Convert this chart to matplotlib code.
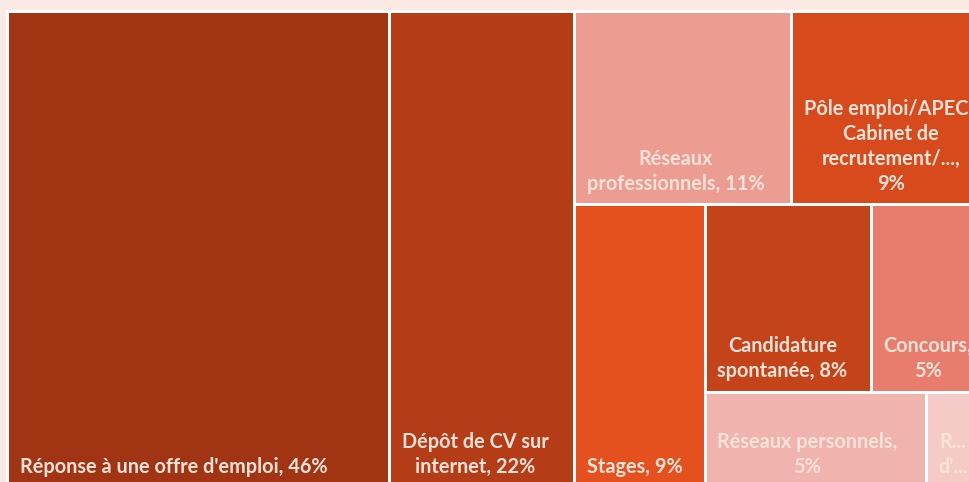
import matplotlib
matplotlib.use('Agg')
import matplotlib.pyplot as plt
from matplotlib.patches import Rectangle

# Treemap data (layout order)
categories = ["Réponse à une offre d'emploi", "Dépôt de CV sur internet", "Réseaux professionnels",
              "Pôle emploi/APEC/Cabinet de recrutement/...", "Stages", "Candidature spontanée",
              "Concours", "Réseaux personnels", "R... d'..."]
values = [46.0, 22.3, 10.6, 9.3, 9.35, 7.9, 5.25, 5.35, 1.35]
labels = ["Réponse à une offre d'emploi, 46%", "Dépôt de CV sur\ninternet, 22%", "Réseaux\nprofessionnels, 11%",
          "Pôle emploi/APEC/\nCabinet de\nrecrutement/...,\n9%", "Stages, 9%", "Candidature\nspontanée, 8%",
          "Concours,\n5%", "Réseaux personnels,\n5%", "R...\nd'..."]
colors = ['#A13412', '#B43C16', '#EC9C91', '#D64A1C', '#E4511F', '#C44318', '#E87D6E', '#F0B3AD', '#F4CBC7']

# how the cells are grouped into strips, in the order they are laid out
rows = [[0], [1], [2, 3], [4], [5, 6], [7], [8]]


def layout(vals, rows, W, H):
    x, y, w, h = 0.0, 0.0, W, H
    scale = W * H / sum(vals)
    rects = {}
    for row in rows:
        s = sum(vals[i] for i in row) * scale
        if w >= h:
            cw = s / h
            yy = y
            for i in row:
                ch = vals[i] * scale / cw
                rects[i] = (x, yy, cw, ch)
                yy += ch
            x += cw
            w -= cw
        else:
            rh = s / w
            xx = x
            for i in row:
                cw = vals[i] * scale / rh
                rects[i] = (xx, y, cw, rh)
                xx += cw
            y += rh
            h -= rh
    return rects


FIG_W, FIG_H, DPI = 970, 482, 100
left_px, top_px, box_w, box_h = 7.5, 11.5, 974.3, 476.0
pad = 1.5

fig = plt.figure(figsize=(FIG_W / DPI, FIG_H / DPI), dpi=DPI)
fig.patch.set_facecolor('#FBEAE4')
ax = fig.add_axes([(left_px - pad) / FIG_W,
                   (FIG_H - top_px - box_h - pad) / FIG_H,
                   (box_w + 2 * pad) / FIG_W,
                   (box_h + 2 * pad) / FIG_H])
ax.set_facecolor('white')

aspect = box_w / box_h
m = pad / box_h
rects = layout(values, rows, aspect, 1.0)

for i, (x, y, w, h) in rects.items():
    ax.add_patch(Rectangle((x, y), w, h, facecolor=colors[i], edgecolor='white', linewidth=3 * 72 / DPI))
    ax.annotate(labels[i], xy=(x, y + h), xytext=(12.5, 14.5), textcoords='offset pixels',
                ha='left', va='baseline', multialignment='center',
                fontsize=14.3, fontweight='bold', family=['Lato', 'DejaVu Sans'],
                color='#FBE3DA', linespacing=1.32, annotation_clip=False)

ax.set_xlim(-m, aspect + m)
ax.set_ylim(1 + m, -m)
ax.axis('off')
ax.add_patch(Rectangle((0, 0), 1, 1, transform=ax.transAxes, facecolor='white', zorder=-1))

fig.savefig('out.png', dpi=DPI, facecolor=fig.get_facecolor())
